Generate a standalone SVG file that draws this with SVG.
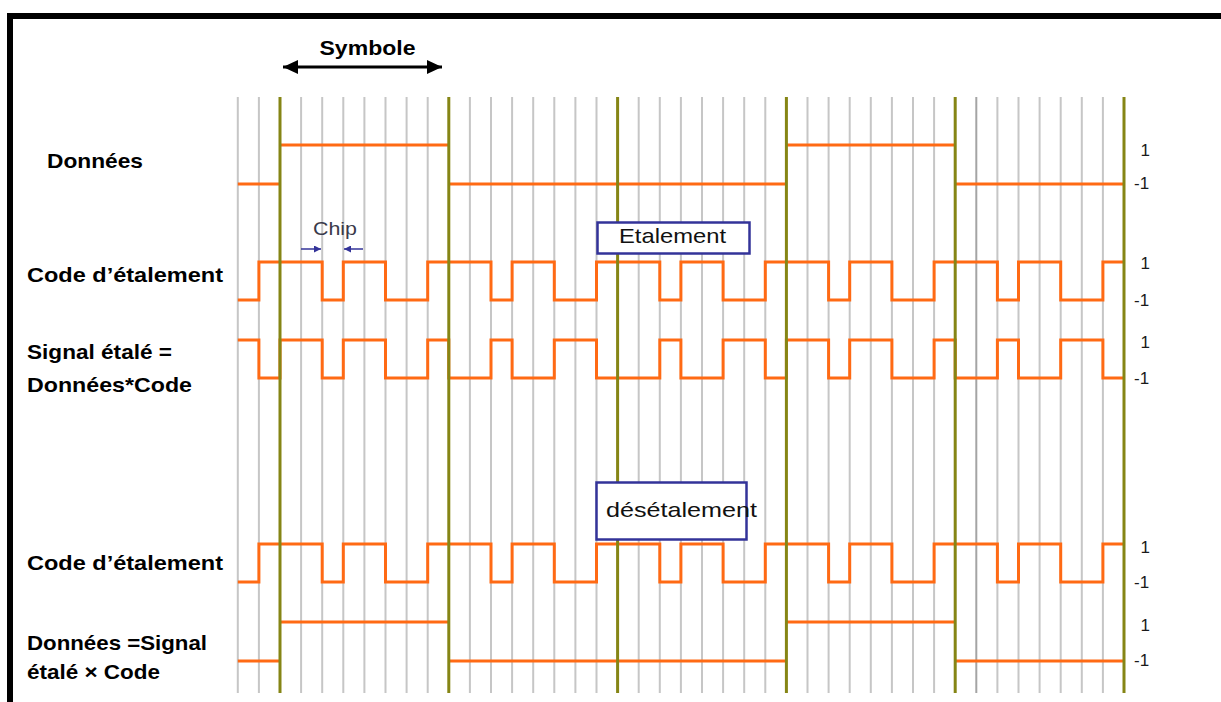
<svg xmlns="http://www.w3.org/2000/svg" width="1221" height="702" viewBox="0 0 1221 702">
<style>
.g{stroke:#c6c6c6;stroke-width:2;fill:none}
.gd{stroke:#a4a4a4;stroke-width:2;fill:none}
.gr{stroke:#858515;stroke-width:3;fill:none}
.w{stroke:#ff6a14;stroke-width:3;fill:none;stroke-linejoin:miter}
.lbl{font-family:"Liberation Sans",Arial,sans-serif;font-weight:bold;font-size:21px;fill:#000}
.val{font-family:"Liberation Sans",Arial,sans-serif;font-size:17px;fill:#1a1a1a}
.box{fill:#fff;stroke:#333399;stroke-width:2.5}
.boxt{font-family:"Liberation Sans",Arial,sans-serif;font-size:21px;fill:#111}
</style>
<defs>
<marker id="ah" viewBox="0 0 15 14" refX="15" refY="7" markerWidth="15" markerHeight="14" orient="auto-start-reverse" markerUnits="userSpaceOnUse">
<path d="M0,0 L15,7 L0,14 z" fill="#000"/>
</marker>
<marker id="ab" viewBox="0 0 10 10" refX="10" refY="5" markerWidth="7" markerHeight="7" orient="auto" markerUnits="userSpaceOnUse">
<path d="M0,0 L10,5 L0,10 z" fill="#333399"/>
</marker>
</defs>
<rect width="1221" height="702" fill="#fff"/>
<path d="M10,702 V16 H1221" fill="none" stroke="#000" stroke-width="6"/>

<g id="grid">
<path class="g" d="M237.8,97V693M258.9,97V693M301.1,97V693M322.2,97V693M343.3,97V693M364.4,97V693M385.5,97V693M406.6,97V693M427.7,97V693M469.9,97V693M491,97V693M512.1,97V693M533.2,97V693M554.3,97V693M575.4,97V693M596.5,97V693M638.7,97V693M659.8,97V693M680.9,97V693M702,97V693M723.1,97V693M744.2,97V693M765.3,97V693M807.5,97V693M828.6,97V693M849.7,97V693M870.8,97V693M891.9,97V693M913,97V693M934.1,97V693M997.4,97V693M1018.5,97V693M1039.6,97V693M1060.7,97V693M1081.8,97V693M1102.9,97V693"/>
<path class="gd" d="M976.3,97V693"/>
</g>

<g id="connectors">
<g id="data1">
<path class="w" d="M237.8,184H280M280,145H448.8M448.8,184H786.4M786.4,145H955.2M955.2,184H1124"/>
</g>
<g id="code1">
<path class="w" d="M237.8,300 H258.9 V262 H322.2 V300 H343.3 V262 H385.5 V300 H427.7 V262 H491 V300 H512.1 V262 H554.3 V300 H596.5 V262 H659.8 V300 H680.9 V262 H723.1 V300 H765.3 V262 H828.6 V300 H849.7 V262 H891.9 V300 H934.1 V262 H997.4 V300 H1018.5 V262 H1060.7 V300 H1102.9 V262 H1124"/>
</g>
<g id="signal">
<path class="w" d="M237.8,340 H258.9 V378 H280 V340 H322.2 V378 H343.3 V340 H385.5 V378 H427.7 V340 H448.8 V378 H491 V340 H512.1 V378 H554.3 V340 H596.5 V378 H659.8 V340 H680.9 V378 H723.1 V340 H765.3 V378 H786.4 V340 H828.6 V378 H849.7 V340 H891.9 V378 H934.1 V340 H955.2 V378 H997.4 V340 H1018.5 V378 H1060.7 V340 H1102.9 V378 H1124"/>
</g>
<g id="code2">
<path class="w" transform="translate(0,282)" d="M237.8,300 H258.9 V262 H322.2 V300 H343.3 V262 H385.5 V300 H427.7 V262 H491 V300 H512.1 V262 H554.3 V300 H596.5 V262 H659.8 V300 H680.9 V262 H723.1 V300 H765.3 V262 H828.6 V300 H849.7 V262 H891.9 V300 H934.1 V262 H997.4 V300 H1018.5 V262 H1060.7 V300 H1102.9 V262 H1124"/>
</g>
<g id="data2">
<path class="w" d="M237.8,661H280M280,622H448.8M448.8,661H786.4M786.4,622H955.2M955.2,661H1124"/>
</g>
<path id="symbol-arrow" d="M283,67H442" stroke="#000" stroke-width="3" fill="none" marker-start="url(#ah)" marker-end="url(#ah)"/>
<path id="chip-arrow-l" d="M301,249H321" stroke="#333399" stroke-width="1.5" fill="none" marker-end="url(#ab)"/>
<path id="chip-arrow-r" d="M363,249H344" stroke="#333399" stroke-width="1.5" fill="none" marker-end="url(#ab)"/>
</g>

<g id="symbol-lines">
<path class="gr" d="M280,97V693M448.8,97V693M617.6,97V693M786.4,97V693M955.2,97V693M1124,97V693"/>
</g>

<g id="etalement">
<rect class="box" x="597.5" y="222.5" width="152" height="31"/>
<text class="boxt" x="619" y="243" textLength="107" lengthAdjust="spacingAndGlyphs">Etalement</text>
</g>
<g id="desetalement">
<rect class="box" x="596.5" y="482.5" width="150" height="57"/>
<text class="boxt" x="606" y="517" textLength="151" lengthAdjust="spacingAndGlyphs">désétalement</text>
</g>

<g id="symbole"><text class="lbl" x="319.5" y="55" textLength="96" lengthAdjust="spacingAndGlyphs">Symbole</text></g>
<g id="chip"><text x="313" y="235" font-family="Liberation Sans, Arial, sans-serif" font-size="18" fill="#3a3a4a" textLength="44" lengthAdjust="spacingAndGlyphs">Chip</text></g>

<g id="labels">
<text class="lbl" x="47" y="168" textLength="96" lengthAdjust="spacingAndGlyphs">Données</text>
<text class="lbl" x="27" y="281.5" textLength="196" lengthAdjust="spacingAndGlyphs">Code d’étalement</text>
<text class="lbl" x="27" y="359" textLength="145" lengthAdjust="spacingAndGlyphs">Signal étalé =</text>
<text class="lbl" x="27" y="391.5" textLength="165" lengthAdjust="spacingAndGlyphs">Données*Code</text>
<text class="lbl" x="27" y="570" textLength="196" lengthAdjust="spacingAndGlyphs">Code d’étalement</text>
<text class="lbl" x="27" y="650" textLength="180" lengthAdjust="spacingAndGlyphs">Données =Signal</text>
<text class="lbl" x="27" y="679" textLength="133" lengthAdjust="spacingAndGlyphs">étalé × Code</text>
</g>

<g id="values">
<text class="val" x="1140.5" y="156">1</text>
<text class="val" x="1134" y="189">-1</text>
<text class="val" x="1140.5" y="269">1</text>
<text class="val" x="1134" y="306">-1</text>
<text class="val" x="1140.5" y="348">1</text>
<text class="val" x="1134" y="384">-1</text>
<text class="val" x="1140.5" y="553">1</text>
<text class="val" x="1134" y="588">-1</text>
<text class="val" x="1140.5" y="631">1</text>
<text class="val" x="1134" y="666">-1</text>
</g>
</svg>
